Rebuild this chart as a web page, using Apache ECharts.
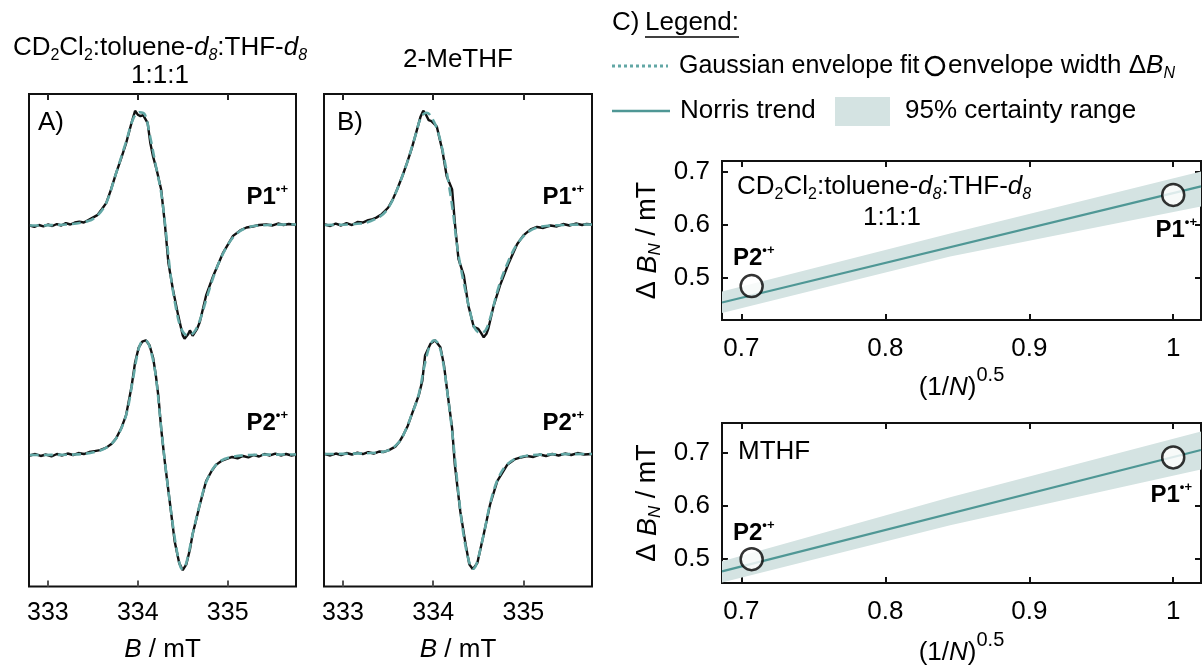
<!DOCTYPE html>
<html>
<head>
<meta charset="utf-8">
<script src="https://cdn.jsdelivr.net/npm/echarts@6/dist/echarts.min.js"></script>
<style>
  html, body { margin: 0; padding: 0; background: #fff; }
  #chart { width: 1204px; height: 668px; }
</style>
</head>
<body>
<div id="chart"></div>
<script>
// field axis (mT) and tick labels
const fieldTicks = [333, 334, 335];
const fieldMin = 332.79, fieldMax = 335.76;

// panel A, P1 (experiment + Gaussian envelope fit)
const fieldA1 = [332.80,332.85,332.90,332.95,333.00,333.05,333.10,333.15,333.20,333.25,333.30,333.35,333.40,333.45,333.50,333.55,333.60,333.65,333.70,333.76,333.82,333.87,333.93,333.97,334.00,334.03,334.06,334.08,334.11,334.14,334.17,334.21,334.26,334.30,334.34,334.39,334.45,334.50,334.52,334.56,334.58,334.61,334.63,334.66,334.69,334.76,334.84,334.95,335.06,335.14,335.21,335.28,335.35,335.43,335.50,335.56,335.62,335.68,335.76];
const expA1 = [73.3,73.0,73.4,73.1,73.5,73.2,73.6,73.3,73.8,73.5,73.9,74.1,73.9,74.4,74.9,75.4,76.6,77.9,80.5,84.0,87.2,90.0,94.1,96.6,95.8,95.5,95.7,96.0,94.1,90.0,87.3,84.6,80.6,73.9,65.8,60.4,55.0,51.0,50.3,51.2,52.0,50.9,50.6,52.3,53.7,59.1,63.1,67.8,71.2,72.3,72.9,73.1,73.4,73.5,73.3,73.7,73.4,73.6,73.4];
const fieldA1fit = [332.80,333.20,333.45,333.55,333.65,333.76,333.87,333.95,334.02,334.08,334.13,334.20,334.26,334.31,334.36,334.42,334.48,334.55,334.62,334.69,334.77,334.86,334.96,335.08,335.22,335.45,335.76];
const fitA1 = [73.3,73.5,74.2,75.3,77.9,84.0,90.3,95.0,96.3,95.8,92.0,85.5,80.0,72.5,64.0,57.0,52.5,51.0,51.5,54.0,58.8,63.8,68.0,71.3,72.9,73.4,73.5];

// panel A, P2
const fieldA2 = [332.80,332.86,332.92,332.98,333.04,333.10,333.16,333.22,333.28,333.34,333.40,333.46,333.52,333.58,333.65,333.71,333.76,333.82,333.87,333.93,333.97,334.01,334.05,334.09,334.13,334.17,334.20,334.23,334.26,334.30,334.36,334.41,334.46,334.50,334.54,334.58,334.61,334.69,334.76,334.82,334.87,334.93,334.99,335.05,335.11,335.17,335.23,335.29,335.35,335.41,335.47,335.53,335.59,335.65,335.71,335.76];
const expA2 = [26.6,26.9,26.5,26.8,26.4,26.9,26.6,27.0,26.7,27.1,26.9,27.3,27.5,27.7,28.2,29.0,30.1,32.3,34.8,40.5,45.5,48.5,49.7,50.0,49.0,46.5,43.0,38.5,32.1,25.4,16.6,9.2,4.8,3.3,4.5,7.5,10.6,16.6,21.4,23.4,24.7,25.5,25.9,26.3,26.0,26.5,26.2,26.7,26.4,26.9,26.6,27.0,26.6,26.9,26.6,26.8];
const fieldA2fit = [332.80,333.30,333.52,333.65,333.76,333.87,333.95,334.01,334.06,334.10,334.15,334.20,334.26,334.31,334.36,334.42,334.47,334.50,334.54,334.61,334.69,334.77,334.88,335.02,335.25,335.76];
const fitA2 = [26.7,26.8,27.3,28.2,30.1,34.8,42.5,48.3,49.9,49.8,47.5,42.8,32.3,24.0,16.6,8.8,4.3,3.5,4.8,10.6,16.7,21.6,24.9,26.2,26.7,26.8];

// panel B, P1
const fieldB1 = [332.80,332.86,332.92,332.98,333.04,333.10,333.16,333.22,333.28,333.33,333.37,333.43,333.50,333.55,333.60,333.66,333.71,333.76,333.80,333.86,333.89,333.92,333.95,333.98,334.00,334.04,334.07,334.10,334.15,334.21,334.24,334.28,334.34,334.39,334.45,334.50,334.53,334.56,334.59,334.61,334.67,334.74,334.84,334.93,335.00,335.08,335.15,335.22,335.30,335.37,335.44,335.51,335.58,335.65,335.70,335.76];
const expB1 = [73.5,73.2,73.7,73.3,73.8,73.4,74.0,73.9,74.4,74.6,74.9,75.6,76.9,78.5,80.6,83.4,86.0,88.8,91.4,95.4,96.6,95.8,94.7,94.5,94.1,93.4,91.0,88.7,83.3,80.6,73.9,66.5,63.1,57.0,52.7,52.3,51.5,50.6,51.3,52.3,57.0,61.1,65.8,69.5,71.3,72.5,73.0,72.8,73.3,73.1,73.6,73.3,73.7,73.4,73.6,73.5];
const fieldB1fit = [332.80,333.20,333.40,333.50,333.60,333.71,333.80,333.87,333.93,333.99,334.05,334.11,334.17,334.22,334.27,334.33,334.40,334.46,334.52,334.58,334.64,334.72,334.82,334.93,335.07,335.25,335.76];
const fitB1 = [73.4,73.7,75.0,76.8,80.6,86.0,91.4,95.5,96.2,95.0,92.5,88.0,82.0,76.0,68.5,62.5,56.5,52.5,51.5,52.0,55.0,60.5,65.5,69.5,72.2,73.2,73.5];

// panel B, P2
const fieldB2 = [332.80,332.86,332.92,332.98,333.04,333.10,333.16,333.22,333.28,333.34,333.40,333.45,333.52,333.58,333.63,333.67,333.72,333.76,333.80,333.84,333.88,333.91,333.97,334.02,334.08,334.12,334.15,334.21,334.24,334.30,334.36,334.40,334.44,334.49,334.56,334.63,334.71,334.82,334.90,334.97,335.04,335.11,335.18,335.25,335.32,335.39,335.46,335.53,335.60,335.67,335.76];
const expB2 = [26.9,26.6,27.0,26.7,27.1,26.8,27.2,26.9,27.3,27.0,27.4,27.3,27.8,28.4,29.5,30.8,32.7,34.8,36.8,38.8,41.8,46.9,49.3,50.0,48.6,44.9,40.5,32.1,24.7,15.3,8.5,4.5,3.5,4.8,10.6,16.6,21.4,24.7,25.8,26.2,26.5,26.3,26.8,26.5,26.9,26.6,27.0,26.7,27.1,26.8,26.9];
const fieldB2fit = [332.80,333.30,333.50,333.60,333.67,333.76,333.84,333.90,333.96,334.01,334.06,334.11,334.16,334.21,334.26,334.31,334.36,334.41,334.44,334.48,334.56,334.63,334.71,334.82,334.97,335.25,335.76];
const fitB2 = [26.9,27.1,27.6,28.9,30.8,34.8,39.0,44.5,48.8,50.0,49.2,45.5,39.0,31.5,22.5,14.0,8.0,4.3,3.6,4.6,10.6,16.7,21.5,24.8,26.3,26.8,26.9];

// panel C: envelope widths vs (1/N)^0.5
const invSqrtN = [0.7071, 1.0];
const widthCD = [0.484, 0.656];
const widthMTHF = [0.500, 0.692];
const trendX = [0.6865, 1.0193];
const trendCD = [0.453, 0.672];
const trendMTHF = [0.477, 0.706];
const bandX = [0.6865, 0.845, 1.0193];
const bandCDlo = [0.433, 0.540, 0.634];
const bandCDhi = [0.474, 0.583, 0.700];
const bandMTlo = [0.456, 0.564, 0.669];
const bandMThi = [0.496, 0.617, 0.741];
const nTicks = [0.7, 0.8, 0.9, 1];
const wTicks = [0.5, 0.6, 0.7];

const F = '"Liberation Sans", Arial, sans-serif';
const TEAL = '#62a7a5';
const TREND = '#4f9795';
const BAND = '#d4e3e2';

function rich(s) {
  const base = { fontFamily: F, fontSize: s, lineHeight: Math.round(s * 1.2), color: '#000', fill: '#000' };
  const sub = { fontFamily: F, fontSize: Math.round(s * 0.62), lineHeight: Math.round(s * 0.55), verticalAlign: 'bottom', color: '#000', fill: '#000' };
  return {
    n: base,
    i: Object.assign({}, base, { fontStyle: 'italic' }),
    b: Object.assign({}, base, { fontWeight: 'bold' }),
    sub: sub,
    isub: Object.assign({}, sub, { fontStyle: 'italic' }),
    sup: { fontFamily: F, fontSize: Math.round(s * 0.55), lineHeight: Math.round(s * 0.4), verticalAlign: 'top', fontWeight: 'bold', color: '#000', fill: '#000' }
  };
}

function txt(x, y, text, size, align) {
  return {
    type: 'text', x: x, y: y, z: 100,
    style: { text: text, rich: rich(size), textAlign: align, align: align, textVerticalAlign: 'middle', verticalAlign: 'middle', fill: '#000' }
  };
}

const pLabel = n => '{b|P' + n + '}{sup|•+}';
const solventCD = '{n|CD}{sub|2}{n|Cl}{sub|2}{n|:toluene-}{i|d}{isub|8}{n|:THF-}{i|d}{isub|8}';

function specX(g, pos) {
  const bottom = pos === 'bottom';
  return {
    type: 'value', gridIndex: g, position: pos, min: fieldMin, max: fieldMax,
    axisLine: { show: false }, splitLine: { show: false },
    axisTick: { show: true, inside: true, length: 6, customValues: fieldTicks, lineStyle: { color: bottom ? '#555' : '#222', width: 2 } },
    axisLabel: { show: bottom, customValues: fieldTicks, margin: 14, fontSize: 25, fontFamily: F, color: '#000' },
    name: bottom ? '{i|B}{n| / mT}' : '', nameLocation: 'middle', nameGap: 48,
    nameTextStyle: { rich: rich(26) }
  };
}

const nRich = Object.assign(rich(26), {
  n: { fontFamily: F, fontSize: 26, lineHeight: 46, color: '#000' },
  i: { fontFamily: F, fontSize: 26, lineHeight: 46, fontStyle: 'italic', color: '#000' },
  p: { fontFamily: F, fontSize: 20, lineHeight: 8, verticalAlign: 'top', color: '#000' }
});

function nX(g, pos, gap) {
  const bottom = pos === 'bottom';
  return {
    type: 'value', gridIndex: g, position: pos, min: trendX[0], max: trendX[1],
    axisLine: { show: false }, splitLine: { show: false },
    axisTick: { show: true, inside: true, length: 6, customValues: nTicks, lineStyle: { color: '#111', width: 2 } },
    axisLabel: { show: bottom, customValues: nTicks, margin: 16, fontSize: 26, fontFamily: F, color: '#000',
      formatter: v => String(Math.round(v * 10) / 10) },
    name: bottom ? '{n|(1/}{i|N}{n|)}{p|0.5}' : '', nameLocation: 'middle', nameGap: gap,
    nameTextStyle: { rich: nRich }
  };
}

function wY(g, pos, min, max) {
  const left = pos === 'left';
  return {
    type: 'value', gridIndex: g, position: pos, min: min, max: max,
    axisLine: { show: false }, splitLine: { show: false },
    axisTick: { show: true, inside: true, length: 6, customValues: wTicks, lineStyle: { color: '#111', width: 2 } },
    axisLabel: { show: left, customValues: wTicks, margin: 12, fontSize: 26, fontFamily: F, color: '#000',
      formatter: v => v.toFixed(1) },
    name: left ? '{n|Δ }{i|B}{isub|N}{n| / mT}' : '', nameLocation: 'middle', nameRotate: 90, nameGap: 58,
    nameTextStyle: { rich: rich(27) }
  };
}

function specLine(g, xs, ys, fit) {
  return {
    type: 'line', xAxisIndex: g * 2, yAxisIndex: g, data: xs.map((x, i) => [x, ys[i]]),
    showSymbol: false, symbol: 'none', smooth: fit ? 0.35 : false, silent: true, z: fit ? 3 : 2,
    lineStyle: fit ? { color: TEAL, width: 2.6, type: [9, 5] } : { color: '#111', width: 2.4 }
  };
}

function band(xi, yi, lo, hi) {
  return {
    type: 'custom', xAxisIndex: xi, yAxisIndex: yi, clip: true, silent: true, z: 1,
    data: bandX.map((x, i) => [x, lo[i], hi[i]]), encode: { x: 0, y: [1, 2] },
    renderItem: (params, api) => {
      if (params.dataIndex !== 0) return null;
      const top = bandX.map((x, i) => api.coord([x, hi[i]]));
      const bot = bandX.map((x, i) => api.coord([x, lo[i]])).reverse();
      return { type: 'polygon', shape: { points: top.concat(bot) }, style: { fill: BAND } };
    }
  };
}

function trend(xi, yi, ys) {
  return { type: 'line', xAxisIndex: xi, yAxisIndex: yi, data: trendX.map((x, i) => [x, ys[i]]),
    showSymbol: false, symbol: 'none', silent: true, z: 2, lineStyle: { color: TREND, width: 2.2 } };
}

function points(xi, yi, ys) {
  return { type: 'scatter', xAxisIndex: xi, yAxisIndex: yi, data: invSqrtN.map((x, i) => [x, ys[i]]),
    symbol: 'circle', symbolSize: 22, silent: true, z: 4,
    itemStyle: { color: '#fff', borderColor: '#000', borderWidth: 2.5 } };
}

const chart = echarts.init(document.getElementById('chart'));
const box = { show: true, borderColor: '#111', borderWidth: 2, backgroundColor: 'transparent' };

chart.setOption({
  animation: false,
  backgroundColor: '#fff',
  grid: [
    Object.assign({ left: 29, top: 94, width: 267, height: 495 }, box),
    Object.assign({ left: 324, top: 94, width: 268, height: 495 }, box),
    Object.assign({ left: 722, top: 161, width: 479, height: 159 }, box),
    Object.assign({ left: 722, top: 423, width: 479, height: 160 }, box)
  ],
  xAxis: [
    specX(0, 'bottom'), specX(0, 'top'), specX(1, 'bottom'), specX(1, 'top'),
    nX(2, 'bottom', 45), nX(2, 'top'), nX(3, 'bottom', 47), nX(3, 'top')
  ],
  yAxis: [
    { type: 'value', gridIndex: 0, min: 0, max: 100, show: false },
    { type: 'value', gridIndex: 1, min: 0, max: 100, show: false },
    wY(2, 'left', 0.42, 0.72), wY(2, 'right', 0.42, 0.72),
    wY(3, 'left', 0.455, 0.757), wY(3, 'right', 0.455, 0.757)
  ],
  series: [
    specLine(0, fieldA1, expA1, false), specLine(0, fieldA1fit, fitA1, true),
    specLine(0, fieldA2, expA2, false), specLine(0, fieldA2fit, fitA2, true),
    specLine(1, fieldB1, expB1, false), specLine(1, fieldB1fit, fitB1, true),
    specLine(1, fieldB2, expB2, false), specLine(1, fieldB2fit, fitB2, true),
    band(4, 2, bandCDlo, bandCDhi), trend(4, 2, trendCD), points(4, 2, widthCD),
    band(6, 4, bandMTlo, bandMThi), trend(6, 4, trendMTHF), points(6, 4, widthMTHF)
  ],
  graphic: [
    txt(160, 48, solventCD, 26, 'center'),
    txt(160, 76, '{n|1:1:1}', 26, 'center'),
    txt(458, 60, '{n|2-MeTHF}', 26, 'center'),
    txt(38, 123, '{n|A)}', 26, 'left'),
    txt(337, 123, '{n|B)}', 26, 'left'),
    txt(288, 197, pLabel(1), 24, 'right'),
    txt(288, 423, pLabel(2), 24, 'right'),
    txt(584, 197, pLabel(1), 24, 'right'),
    txt(584, 423, pLabel(2), 24, 'right'),
    // legend block
    txt(612, 23, '{n|C)}', 26, 'left'),
    txt(645, 23, '{n|Legend:}', 26, 'left'),
    { type: 'line', z: 100, shape: { x1: 645, y1: 37, x2: 739, y2: 37 }, style: { stroke: '#000', lineWidth: 1.5 } },
    { type: 'line', z: 100, shape: { x1: 612, y1: 66, x2: 668, y2: 66 }, style: { stroke: TEAL, lineWidth: 3, lineDash: [3, 3] } },
    txt(679, 66, '{n|Gaussian envelope fit}', 25, 'left'),
    { type: 'circle', z: 100, shape: { cx: 935, cy: 66, r: 9 }, style: { fill: '#fff', stroke: '#000', lineWidth: 2.5 } },
    txt(948, 66, '{n|envelope width Δ}{i|B}{isub|N}', 26, 'left'),
    { type: 'line', z: 100, shape: { x1: 612, y1: 111, x2: 670, y2: 111 }, style: { stroke: TREND, lineWidth: 2.5 } },
    txt(680, 111, '{n|Norris trend}', 26, 'left'),
    { type: 'rect', z: 100, shape: { x: 835, y: 97, width: 55, height: 29 }, style: { fill: BAND } },
    txt(905, 111, '{n|95% certainty range}', 26, 'left'),
    // panel C annotations
    txt(737, 187, solventCD, 26, 'left'),
    txt(892, 218, '{n|1:1:1}', 26, 'center'),
    txt(733, 258, pLabel(2), 24, 'left'),
    txt(1197, 230, pLabel(1), 24, 'right'),
    txt(738, 452, '{n|MTHF}', 26, 'left'),
    txt(733, 533, pLabel(2), 24, 'left'),
    txt(1192, 495, pLabel(1), 24, 'right')
  ]
});
</script>
</body>
</html>
